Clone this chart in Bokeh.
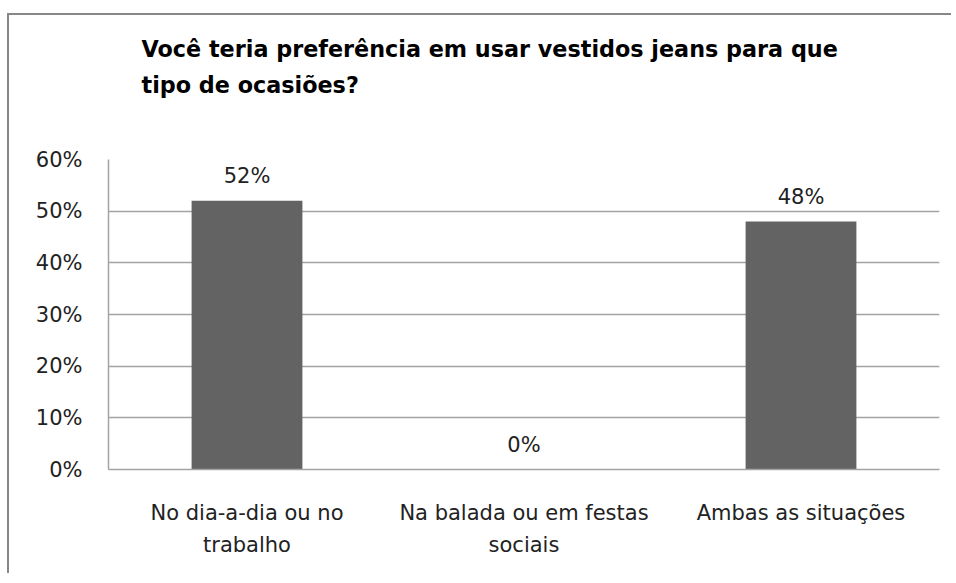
from bokeh.plotting import figure
from bokeh.models import (ColumnDataSource, Title, LabelSet, NumeralTickFormatter, FixedTicker,
                          CategoricalAxis, CustomJSTickFormatter)
from bokeh.core.properties import value
from bokeh.embed import file_html
from bokeh.resources import INLINE

categories = ["No dia-a-dia ou no trabalho", "Na balada ou em festas sociais", "Ambas as situações"]
category_line1 = ["No dia-a-dia ou no", "Na balada ou em festas", "Ambas as situações"]
category_line2 = ["trabalho", "sociais", ""]
values = [0.52, 0.0, 0.48]
value_labels = ["52%", "0%", "48%"]
y_ticks = [0.0, 0.1, 0.2, 0.3, 0.4, 0.5, 0.6]
title_lines = ["Você teria preferência em usar vestidos jeans para que", "tipo de ocasiões?"]

W, H = 944, 560
FONT = "DejaVu Sans"
FS = "21px"
p = figure(x_range=categories, y_range=(0, 0.6), width=W, height=H,
           output_backend="svg", toolbar_location=None,
           min_border_left=99, min_border_right=14, min_border_top=144, min_border_bottom=106)
p.styles = {"margin-top": "13px", "margin-left": "7px",
            "border-top": "2px solid #878787", "border-left": "2px solid #878787"}

src = ColumnDataSource(dict(cat=categories, val=values, lab=value_labels))
p.vbar(x="cat", top="val", width=0.4, source=src, fill_color="#636363", line_color=None)

p.add_layout(LabelSet(x="cat", y="val", text="lab", source=src, text_align="center",
                      text_baseline="alphabetic", y_offset=18, text_font=value(FONT),
                      text_font_size=FS, text_color="#222222"))

p.outline_line_color = None
p.background_fill_color = "white"
p.border_fill_color = "white"
p.xgrid.grid_line_color = None
p.ygrid.grid_line_color = "#a3a3a3"
p.ygrid.grid_line_width = 1.5
p.yaxis.ticker = FixedTicker(ticks=y_ticks)
p.yaxis.formatter = NumeralTickFormatter(format="0%")

fmt_code = "const i = names.indexOf(tick); return i >= 0 ? lines[i] : '';"
p.xaxis[0].formatter = CustomJSTickFormatter(args=dict(names=categories, lines=category_line1), code=fmt_code)
x2 = CategoricalAxis(formatter=CustomJSTickFormatter(args=dict(names=categories, lines=category_line2), code=fmt_code))
p.add_layout(x2, "below")

for ax in (p.xaxis[0], x2, p.yaxis[0]):
    ax.axis_line_color = "#a3a3a3"
    ax.axis_line_width = 1.5
    ax.major_tick_line_color = None
    ax.minor_tick_line_color = None
    ax.major_label_text_font = FONT
    ax.major_label_text_font_size = FS
    ax.major_label_text_color = "#222222"
x2.axis_line_color = None
p.yaxis.major_label_standoff = 20
p.xaxis[0].major_label_standoff = 25
x2.major_label_standoff = -1

p.title.visible = False
TF = dict(text_font="DejaVu Sans", text_font_style="bold", text_font_size="22.3px", text_color="black")
p.add_layout(Title(text=" ", align="left", offset=33, standoff=30, **TF), "above")
p.add_layout(Title(text=title_lines[1], align="left", offset=33, standoff=8, **TF), "above")
p.add_layout(Title(text=title_lines[0], align="left", offset=33, standoff=8, **TF), "above")

open("out.html", "w").write(file_html(p, INLINE))
